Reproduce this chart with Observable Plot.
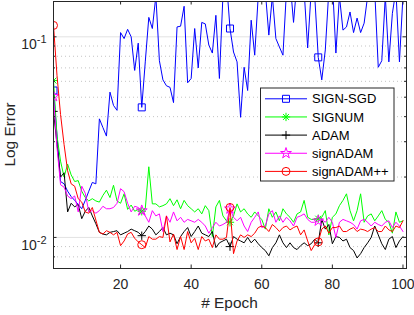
<!DOCTYPE html>
<html><head><meta charset="utf-8">
<script src="https://cdn.jsdelivr.net/npm/d3@7"></script>
<script src="https://cdn.jsdelivr.net/npm/@observablehq/plot@0.6"></script>
<style>
body{margin:0;background:#fff;}
svg{font-family:"Liberation Sans",Arial,sans-serif;}
</style></head><body><div id="chart"></div>
<script>
const epochs = d3.range(1, 101);
const seriesNames = ["SIGN-SGD", "SIGNUM", "ADAM", "signADAM", "signADAM++"];
const seriesColors = ["#0000ff", "#00ff00", "#000000", "#ff00ff", "#ff0000"];
const xTicks = [20, 40, 60, 80, 100];
const yMajorTicks = [0.01, 0.1];
const yMinorTicks = [0.008, 0.009, 0.02, 0.03, 0.04, 0.05, 0.06, 0.07, 0.08, 0.09];
const markerEpochs = [1, 26, 51, 76];

const signSGD = [0.054,0.032,0.019,0.0185,0.017,0.016,0.0153,0.0146,0.0139,0.0153,
0.017,0.0188,0.0185,0.039,0.0353,0.032,0.053,0.0455,0.043,0.105,
0.098,0.109,0.1,0.068,0.093,0.0445,0.075,0.125,0.11,0.16,
0.076,0.061,0.057,0.056,0.047,0.112,0.113,0.142,0.059,0.062,
0.11,0.07,0.118,0.116,0.091,0.083,0.128,0.062,0.16,0.19,
0.11,0.084,0.075,0.0397,0.0705,0.054,0.121,0.081,0.16,0.21,
0.17,0.102,0.16,0.098,0.089,0.081,0.17,0.19,0.118,0.19,
0.21,0.17,0.088,0.17,0.16,0.079,0.061,0.086,0.17,0.19,
0.083,0.16,0.108,0.112,0.133,0.105,0.124,0.105,0.117,0.16,
0.19,0.17,0.0705,0.076,0.16,0.075,0.131,0.17,0.075,0.16];

const signum = [0.0605,0.032,0.024,0.020,0.0232,0.0205,0.019,0.0192,0.017,0.0158,
0.0152,0.0156,0.0152,0.015,0.0162,0.0172,0.0158,0.0182,0.0152,0.0148,
0.0165,0.0138,0.0145,0.0135,0.0138,0.0135,0.0139,0.0225,0.0147,0.0147,
0.0142,0.0144,0.0147,0.0156,0.0144,0.0154,0.0139,0.0153,0.0144,0.0139,
0.0134,0.0139,0.0131,0.0144,0.0136,0.0101,0.0142,0.0153,0.0128,0.0121,
0.0119,0.0128,0.0147,0.0134,0.0139,0.0131,0.0126,0.0134,0.0128,0.0123,
0.011,0.0139,0.0126,0.0134,0.0121,0.0139,0.0131,0.0126,0.0119,0.0131,
0.0134,0.0153,0.0126,0.0123,0.0123,0.0124,0.0126,0.0136,0.0103,0.0126,
0.0131,0.0144,0.0153,0.0165,0.0136,0.0121,0.0136,0.0165,0.0119,0.0128,
0.0131,0.0121,0.0128,0.0136,0.0123,0.0119,0.0105,0.0134,0.0119,0.0121];

const adam = [0.0425,0.029,0.02,0.021,0.0134,0.0148,0.0142,0.0146,0.0124,0.0135,
0.0141,0.0128,0.0117,0.0106,0.0104,0.0103,0.0106,0.0107,0.0108,0.0103,
0.0105,0.0107,0.011,0.0108,0.0106,0.0102,0.0107,0.0114,0.011,0.0103,
0.0107,0.0112,0.0103,0.0105,0.0103,0.0093,0.0101,0.0107,0.0112,0.0101,
0.0107,0.0114,0.0105,0.0103,0.0101,0.0107,0.0089,0.0094,0.0096,0.0098,
0.009,0.0101,0.0098,0.0096,0.0094,0.01,0.0094,0.0098,0.0093,0.0089,
0.0086,0.0081,0.0089,0.0094,0.0103,0.0094,0.0089,0.0094,0.0089,0.0087,
0.0091,0.0094,0.0091,0.0093,0.0098,0.0094,0.0123,0.011,0.0116,0.0093,
0.0101,0.01,0.0096,0.0098,0.0089,0.0086,0.0079,0.0083,0.0089,0.0094,
0.01,0.0114,0.0103,0.0093,0.0087,0.0098,0.0101,0.0089,0.0096,0.0101];

const signAdam = [0.0505,0.028,0.0183,0.0178,0.0161,0.0156,0.0161,0.0134,0.018,0.0166,
0.0134,0.0136,0.0132,0.0136,0.0143,0.0139,0.0139,0.0141,0.0148,0.0175,
0.0169,0.0148,0.0134,0.0143,0.0141,0.0136,0.0128,0.0119,0.0136,0.0128,
0.0131,0.0107,0.0128,0.0119,0.0134,0.0121,0.0126,0.0119,0.0123,0.0121,
0.0119,0.0123,0.0119,0.0114,0.0105,0.0112,0.0119,0.0114,0.0116,0.0119,
0.0139,0.0126,0.0121,0.0126,0.0114,0.0107,0.0119,0.0126,0.0134,0.0112,
0.0114,0.0131,0.0136,0.0119,0.0128,0.0119,0.0126,0.0121,0.0114,0.0126,
0.0128,0.0131,0.0123,0.0119,0.0119,0.0121,0.0123,0.0119,0.0126,0.0119,
0.01,0.0119,0.0123,0.0121,0.0119,0.0116,0.011,0.0121,0.0123,0.0119,
0.0114,0.0119,0.0116,0.0114,0.0119,0.0121,0.0112,0.0119,0.0114,0.0107];

const signAdamPP = [0.114,0.064,0.041,0.029,0.0215,0.0185,0.018,0.0156,0.015,0.0134,
0.0132,0.0141,0.0122,0.0106,0.0104,0.0108,0.0106,0.0103,0.0106,0.0091,
0.0096,0.0104,0.0106,0.0099,0.0095,0.0092,0.0089,0.0101,0.0098,0.0098,
0.0101,0.01,0.0128,0.0095,0.0104,0.0087,0.0101,0.0087,0.0107,0.0094,
0.0099,0.0087,0.0101,0.0096,0.0098,0.0089,0.0103,0.0098,0.0098,0.01,
0.0141,0.0083,0.0096,0.0103,0.01,0.0103,0.0101,0.0105,0.0112,0.0114,
0.0112,0.0107,0.0116,0.0112,0.0107,0.0112,0.0114,0.0109,0.0112,0.0114,
0.0103,0.0109,0.0096,0.0086,0.0092,0.0095,0.011,0.0114,0.0105,0.0112,
0.0112,0.0114,0.0107,0.0107,0.011,0.0112,0.0107,0.011,0.0109,0.0107,
0.011,0.0112,0.0107,0.0107,0.0114,0.0109,0.0107,0.0114,0.0112,0.0121];

const allSeries = [signSGD, signum, adam, signAdam, signAdamPP];

// marker styles: [symbol(s), r]
const markerDefs = [
  [["square"], 3.95],
  [["plus", "times"], 2.8],
  [["plus"], 2.8],
  [["star"], 3.4],
  [["circle"], 4]
];
const d3Sym = {square: d3.symbolSquare, plus: d3.symbolPlus, times: d3.symbolTimes, star: d3.symbolStar, circle: d3.symbolCircle};

const W = 414, H = 315, ML = 53, MR = 8, MT = 1, MB = 47;
const PW = W - ML - MR, PH = H - MT - MB;
const ink = "#262626";

const marks = [
  Plot.ruleY(yMinorTicks, {y: d => d, stroke: "#c4c4c4", strokeDasharray: "1,3"}),
  Plot.ruleY(yMajorTicks, {y: d => d, stroke: "#e2e2e2"})
];
allSeries.forEach((vals, i) => {
  const rows = epochs.map((e, j) => ({epoch: e, value: vals[j]}));
  marks.push(Plot.line(rows, {x: "epoch", y: "value", stroke: seriesColors[i], strokeWidth: 1, clip: true}));
  const mrows = rows.filter(d => markerEpochs.includes(d.epoch));
  const [syms, r] = markerDefs[i];
  syms.forEach(s => {
    marks.push(Plot.dot(mrows, {x: "epoch", y: "value", symbol: () => s, r: r, stroke: seriesColors[i], fill: "none", strokeWidth: 1, clip: true}));
  });
});
marks.push(
  Plot.tickX(xTicks, {x: d => d, insetTop: PH - 3.5, stroke: ink}),
  Plot.tickX(xTicks, {x: d => d, insetBottom: PH - 3.5, stroke: ink}),
  Plot.tickY(yMajorTicks, {y: d => d, insetRight: PW - 3.5, stroke: ink}),
  Plot.tickY(yMajorTicks, {y: d => d, insetLeft: PW - 3.5, stroke: ink}),
  Plot.tickY(yMinorTicks, {y: d => d, insetRight: PW - 2, stroke: ink}),
  Plot.tickY(yMinorTicks, {y: d => d, insetLeft: PW - 2, stroke: ink}),
  Plot.frame({stroke: ink}),
  Plot.axisX(xTicks, {tickSize: 0, tickPadding: 11, label: null, fontSize: 14, fill: ink}),
  Plot.axisY(yMajorTicks, {tickSize: 0, tickPadding: 7, label: null, fontSize: 14, fill: ink,
    tickFormat: d => String(Math.round(Math.log10(d)))})
);

const chart = Plot.plot({
  width: W, height: H,
  marginLeft: ML, marginRight: MR, marginTop: MT, marginBottom: MB,
  style: {fontFamily: "Liberation Sans, Arial, sans-serif", fontSize: "14px", color: ink, background: "#fff"},
  x: {type: "linear", domain: [1, 101]},
  y: {type: "log", domain: [0.007, 0.15]},
  marks
});
document.getElementById("chart").appendChild(chart);

const svg = d3.select(chart);
// superscript y tick labels
svg.selectAll('g[aria-label="y-axis tick label"] text').each(function() {
  const t = d3.select(this);
  const exp = t.text();
  t.text("").attr("dy", 8);
  t.append("tspan").text("10");
  t.append("tspan").attr("dy", -6).attr("font-size", 11).text(exp);
});
// axis labels
svg.append("text").attr("x", ML + PW / 2).attr("y", 308).attr("text-anchor", "middle")
  .attr("font-size", 15.4).attr("fill", ink).text("# Epoch");
svg.append("text").attr("transform", `translate(14.5,${MT + PH / 2}) rotate(-90)`).attr("text-anchor", "middle")
  .attr("font-size", 15.4).attr("fill", ink).text("Log Error");
// legend
const lg = svg.append("g");
lg.append("rect").attr("x", 260.5).attr("y", 88).attr("width", 133.5).attr("height", 93)
  .attr("fill", "#fff").attr("stroke", ink);
seriesNames.forEach((name, i) => {
  const cy = 98.8 + i * 18.15;
  lg.append("line").attr("x1", 265).attr("x2", 307).attr("y1", cy).attr("y2", cy).attr("stroke", seriesColors[i]);
  const [syms, r] = markerDefs[i];
  syms.forEach(s => {
    lg.append("path").attr("transform", `translate(286,${cy})`)
      .attr("d", d3.symbol().type(d3Sym[s]).size(Math.PI * r * r)())
      .attr("fill", "none").attr("stroke", seriesColors[i]);
  });
  lg.append("text").attr("x", 312).attr("y", cy).attr("dy", "0.36em").attr("font-size", 13)
    .attr("text-anchor", "start").attr("fill", "#000").text(name);
});
</script></body></html>
